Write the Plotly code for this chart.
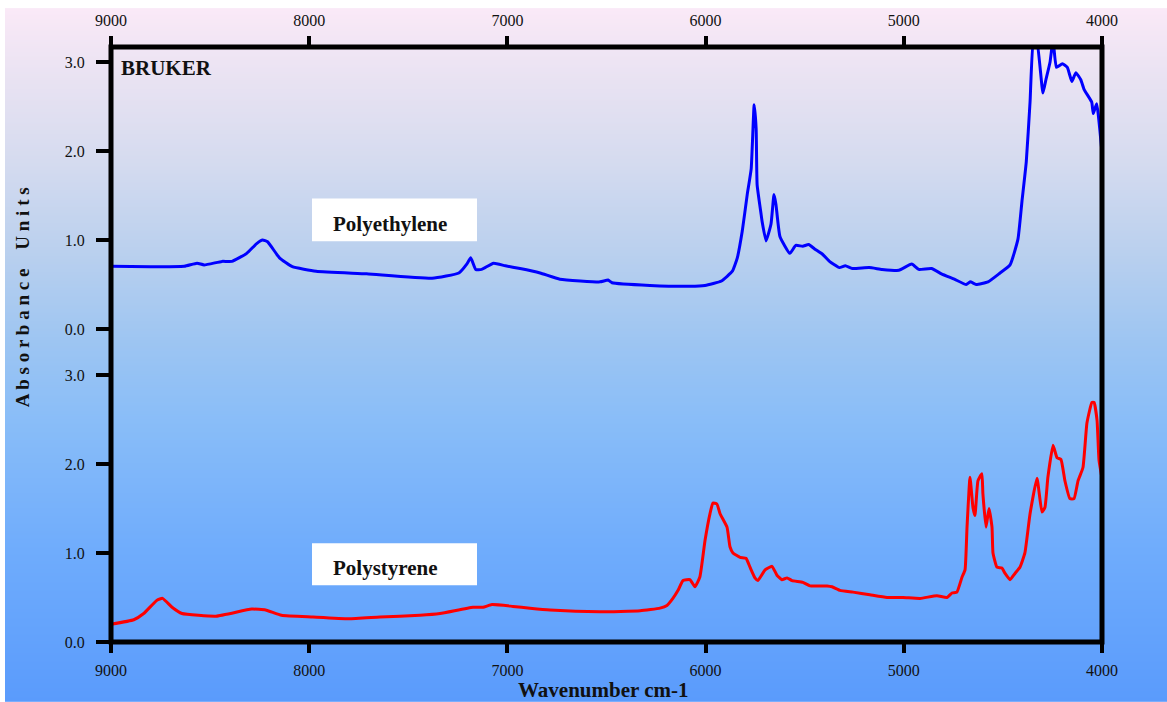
import base64
import struct
import zlib
import plotly.graph_objects as go

# ---------------- data ----------------
pe_wavenumber = [9000, 8800, 8630, 8566, 8530, 8440, 8390, 8315, 8265, 8235, 8210, 8150, 8085,
                 7965, 7710, 7380, 7245, 7205, 7185, 7160, 7130, 7070, 7010, 6936, 6835, 6735,
                 6533, 6492, 6472, 6281, 6079, 6003, 5920, 5865, 5840, 5815, 5790, 5770, 5755,
                 5745, 5740, 5720, 5715, 5695, 5670, 5655, 5645, 5625, 5575, 5545, 5510, 5480,
                 5450, 5410, 5375, 5325, 5295, 5260, 5175, 5110, 5025, 4960, 4925, 4860, 4810,
                 4745, 4685, 4665, 4635, 4575, 4520, 4464, 4424, 4404, 4382, 4363, 4345, 4330,
                 4298, 4283, 4262, 4247, 4230, 4200, 4175, 4152, 4132, 4107, 4090, 4052, 4044,
                 4027, 4002]
pe_absorbance = [0.705, 0.70, 0.705, 0.74, 0.72, 0.76, 0.76, 0.85, 0.96, 1.00, 0.98, 0.80, 0.70,
                 0.65, 0.62, 0.57, 0.63, 0.73, 0.80, 0.67, 0.67, 0.74, 0.71, 0.68, 0.63, 0.56,
                 0.53, 0.55, 0.52, 0.49, 0.48, 0.49, 0.54, 0.65, 0.80, 1.10, 1.51, 1.80, 2.52,
                 2.25, 1.62, 1.29, 1.21, 0.99, 1.18, 1.51, 1.40, 1.04, 0.85, 0.94, 0.93, 0.95,
                 0.90, 0.84, 0.76, 0.69, 0.71, 0.68, 0.69, 0.67, 0.66, 0.73, 0.67, 0.68, 0.62,
                 0.56, 0.50, 0.53, 0.50, 0.53, 0.62, 0.72, 1.01, 1.43, 1.88, 2.55, 3.25, 3.25,
                 2.65, 2.80, 3.00, 3.25, 2.94, 2.98, 2.94, 2.78, 2.88, 2.80, 2.69, 2.55, 2.42,
                 2.53, 2.03]

ps_wavenumber = [9000, 8885, 8835, 8768, 8740, 8692, 8642, 8470, 8290, 8220, 8140, 7981, 7800,
                 7643, 7441, 7340, 7174, 7123, 7078, 6972, 6886, 6785, 6533, 6330, 6230, 6195,
                 6165, 6139, 6114, 6079, 6054, 6029, 6003, 5978, 5963, 5943, 5927, 5892, 5877,
                 5862, 5826, 5796, 5776, 5751, 5736, 5700, 5665, 5640, 5615, 5589, 5564, 5509,
                 5473, 5387, 5362, 5322, 5256, 5171, 5085, 5004, 4918, 4833, 4782, 4757, 4732,
                 4706, 4691, 4681, 4666, 4651, 4641, 4626, 4606, 4601, 4585, 4570, 4555, 4550,
                 4530, 4505, 4489, 4464, 4439, 4414, 4389, 4363, 4328, 4303, 4288, 4273, 4247,
                 4227, 4207, 4187, 4162, 4141, 4121, 4096, 4076, 4051, 4040, 4025, 4015, 4000]
ps_absorbance = [0.20, 0.25, 0.32, 0.47, 0.49, 0.39, 0.32, 0.29, 0.37, 0.36, 0.30, 0.28, 0.26,
                 0.28, 0.30, 0.32, 0.39, 0.39, 0.42, 0.40, 0.38, 0.36, 0.34, 0.35, 0.38, 0.41,
                 0.49, 0.58, 0.69, 0.70, 0.62, 0.73, 1.14, 1.44, 1.56, 1.55, 1.44, 1.29, 1.07,
                 1.00, 0.95, 0.94, 0.84, 0.72, 0.69, 0.81, 0.85, 0.75, 0.70, 0.72, 0.69, 0.67,
                 0.63, 0.63, 0.62, 0.58, 0.56, 0.53, 0.50, 0.50, 0.49, 0.52, 0.50, 0.55, 0.56,
                 0.73, 0.81, 1.29, 1.85, 1.51, 1.42, 1.81, 1.89, 1.67, 1.29, 1.50, 1.29, 1.00,
                 0.84, 0.83, 0.77, 0.70, 0.77, 0.84, 1.00, 1.44, 1.84, 1.46, 1.51, 1.85, 2.21,
                 2.07, 2.05, 1.81, 1.61, 1.61, 1.81, 1.96, 2.46, 2.69, 2.69, 2.49, 2.04, 1.84]

x_tick_values = [9000, 8000, 7000, 6000, 5000, 4000]
y_tick_values = [0, 1, 2, 3]
y_tick_labels = ["0.0", "1.0", "2.0", "3.0"]

# ---------------- geometry helpers ----------------
W, H = 1167, 702
L, R, T, B = 111, 1102, 45, 642


def px_x(px):
    return (px - L) / (R - L)


def px_y(py):
    return (B - py) / (B - T)


UNIT = (B - 374) / 3.0           # pixels per absorbance unit
top_range_max = (328 - T) / UNIT


# ---------------- background gradient image ----------------
def gradient_png(h, stops):
    rows = []
    for y in range(h):
        c = list(stops[-1][1])
        for i in range(len(stops) - 1):
            y0, c0 = stops[i]
            y1, c1 = stops[i + 1]
            if y0 <= y <= y1:
                t = (y - y0) / (y1 - y0) if y1 > y0 else 0
                c = [int(round(c0[k] + (c1[k] - c0[k]) * t)) for k in range(3)]
                break
        rows.append(b"\x00" + bytes(c))
    raw = b"".join(rows)

    def chunk(tag, data):
        return (struct.pack(">I", len(data)) + tag + data +
                struct.pack(">I", zlib.crc32(tag + data) & 0xFFFFFFFF))

    png = (b"\x89PNG\r\n\x1a\n" +
           chunk(b"IHDR", struct.pack(">IIBBBBB", 1, h, 8, 2, 0, 0, 0)) +
           chunk(b"IDAT", zlib.compress(raw)) +
           chunk(b"IEND", b""))
    return "data:image/png;base64," + base64.b64encode(png).decode()


grad_stops = [(0, (250, 233, 247)), (60, (237, 228, 243)), (160, (213, 219, 239)),
              (250, (186, 208, 238)), (340, (157, 197, 242)), (420, (137, 189, 248)),
              (550, (111, 172, 252)), (702, (90, 155, 252))]
bg_src = gradient_png(H - 6, [(max(0, y - 6), c) for y, c in grad_stops])

# ---------------- figure ----------------
fig = go.Figure()

fig.add_trace(go.Scatter(x=pe_wavenumber, y=pe_absorbance, xaxis="x2", yaxis="y2",
                         mode="lines", line=dict(color="#0000FF", width=3, shape="spline",
                                                 smoothing=0.4),
                         name="Polyethylene", showlegend=False, hoverinfo="x+y"))
fig.add_trace(go.Scatter(x=ps_wavenumber, y=ps_absorbance, xaxis="x", yaxis="y",
                         mode="lines", line=dict(color="#FF0000", width=3, shape="spline",
                                                 smoothing=0.4),
                         name="Polystyrene", showlegend=False, hoverinfo="x+y"))

tick_font = dict(family="Liberation Serif, Times New Roman, serif", size=16, color="#111111")
serif_bold = "Liberation Serif, Times New Roman, serif"

common_x = dict(range=[9000, 4000], tickvals=x_tick_values, ticks="outside", ticklen=10,
                tickwidth=4, tickcolor="black", showgrid=False, zeroline=False,
                showline=False, tickfont=tick_font, ticklabelstandoff=4, fixedrange=True)
common_y = dict(tickvals=y_tick_values, ticktext=y_tick_labels, ticks="outside", ticklen=14,
                tickwidth=4, tickcolor="black", showgrid=False, zeroline=False,
                showline=False, tickfont=tick_font, ticklabelstandoff=8, fixedrange=True)

bottom_dom = [0, px_y(374)]
top_dom = [px_y(328), 1]

fig.update_layout(
    width=W, height=H,
    margin=dict(l=L, r=W - R, t=T, b=H - B, pad=0),
    paper_bgcolor="white",
    plot_bgcolor="rgba(0,0,0,0)",
    showlegend=False,
    xaxis=dict(common_x, domain=[0, 1], anchor="y", side="bottom"),
    xaxis2=dict(common_x, domain=[0, 1], anchor="y2", side="top"),
    yaxis=dict(common_y, domain=bottom_dom, range=[0, 3.0], anchor="x", side="left"),
    yaxis2=dict(common_y, domain=top_dom, range=[0, top_range_max], anchor="x2", side="left"),
    yaxis3=dict(common_y, range=[0, 3.0], overlaying="y", anchor="x", side="right"),
    yaxis4=dict(common_y, range=[0, top_range_max], overlaying="y2", anchor="x2", side="right"),
)

fig.add_layout_image(dict(source=bg_src, xref="paper", yref="paper",
                          x=px_x(5), y=px_y(6), sizex=(W - 5) / (R - L), sizey=(H - 6) / (B - T),
                          xanchor="left", yanchor="top", sizing="stretch", layer="below"))

shapes = []
# label boxes
shapes.append(dict(type="rect", xref="paper", yref="paper", x0=px_x(312), x1=px_x(477),
                   y0=px_y(240), y1=px_y(197), fillcolor="white", line=dict(width=0), layer="below"))
shapes.append(dict(type="rect", xref="paper", yref="paper", x0=px_x(312), x1=px_x(477),
                   y0=px_y(585), y1=px_y(543), fillcolor="white", line=dict(width=0), layer="below"))
# frame
shapes.append(dict(type="rect", xref="paper", yref="paper", x0=0, x1=1, y0=0, y1=1,
                   line=dict(color="black", width=5), layer="above"))
fig.update_layout(shapes=shapes)

annotations = [
    dict(text="<b>BRUKER</b>", xref="paper", yref="paper", x=px_x(119), y=px_y(66),
         xanchor="left", yanchor="middle", showarrow=False,
         font=dict(family=serif_bold, size=21, color="#111111")),
    dict(text="<b>Polyethylene</b>", xref="paper", yref="paper", x=px_x(390), y=px_y(223),
         xanchor="center", yanchor="middle", showarrow=False,
         font=dict(family=serif_bold, size=21, color="#111111")),
    dict(text="<b>Polystyrene</b>", xref="paper", yref="paper", x=px_x(385), y=px_y(568),
         xanchor="center", yanchor="middle", showarrow=False,
         font=dict(family=serif_bold, size=21, color="#111111")),
    dict(text="<b>Wavenumber cm-1</b>", xref="paper", yref="paper", x=px_x(603), y=px_y(690),
         xanchor="center", yanchor="middle", showarrow=False,
         font=dict(family=serif_bold, size=21, color="#111111")),
    dict(text="<b>A b s o r b a n c e    U n i t s</b>", xref="paper", yref="paper",
         x=px_x(22), y=px_y(296), xanchor="center", yanchor="middle", textangle=-90,
         showarrow=False, font=dict(family=serif_bold, size=19, color="#111111")),
]
fig.update_layout(annotations=annotations)

fig.write_html("out.html", config={"displayModeBar": False},
               post_script="document.body.style.margin='0';document.body.style.overflow='hidden';")
